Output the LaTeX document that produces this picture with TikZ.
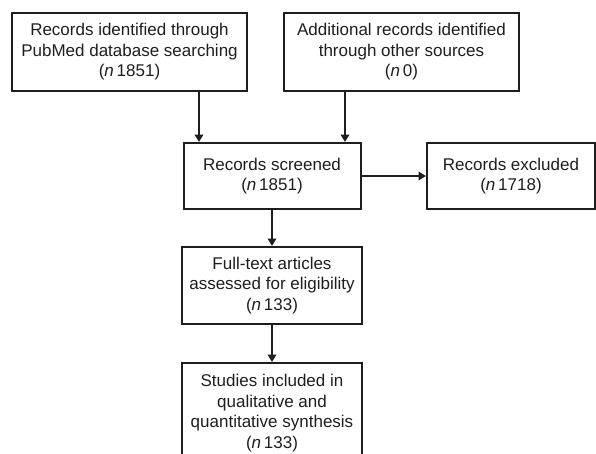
\documentclass[tikz,border=0pt]{standalone}
\usepackage{fontspec}
\setmainfont{Liberation Sans}
\usetikzlibrary{arrows.meta,calc}
\definecolor{ink}{HTML}{1E1E1E}
\begin{document}
\begin{tikzpicture}[x=1pt,y=-1pt,
  box/.style={draw=ink,line width=2pt,align=center,inner sep=0pt,text=ink,
    font=\fontsize{17}{20.5}\selectfont},
  arr/.style={draw=ink,line width=2.2pt,-{Triangle[length=7.5pt,width=8.5pt]}}]
\path[use as bounding box] (0,0) rectangle (596,453);
\clip (0,0) rectangle (596,453);
\node[box,minimum width=235pt,minimum height=78pt] (b1) at (129.5,52)
  {Records identified through\\PubMed database searching\\(\textit{n}\,1851)};
\node[box,minimum width=235pt,minimum height=78pt] (b2) at (401.5,52)
  {Additional records identified\\through other sources\\(\textit{n}\,0)};
\node[box,minimum width=177pt,minimum height=66pt] (scr) at (272,176)
  {Records screened\\(\textit{n}\,1851)};
\node[box,minimum width=168pt,minimum height=66pt] (exc) at (511,176)
  {Records excluded\\(\textit{n}\,1718)};
\node[box,minimum width=180pt,minimum height=77pt] (ft) at (272,285.5)
  {Full-text articles\\assessed for eligibility\\(\textit{n}\,133)};
\node[box,minimum width=180pt,minimum height=100pt] (st) at (272,413)
  {Studies included in\\qualitative and\\quantitative synthesis\\(\textit{n}\,133)};
\coordinate (a1) at ([xshift=16.5pt]scr.north west);
\coordinate (a2) at ([xshift=-16.5pt]scr.north east);
\draw[arr] (a1 |- b1.south) -- (a1);
\draw[arr] (a2 |- b2.south) -- (a2);
\draw[arr] (scr.east) -- (exc.west);
\draw[arr] (scr.south) -- (ft.north);
\draw[arr] (ft.south) -- (st.north);
\end{tikzpicture}
\end{document}
